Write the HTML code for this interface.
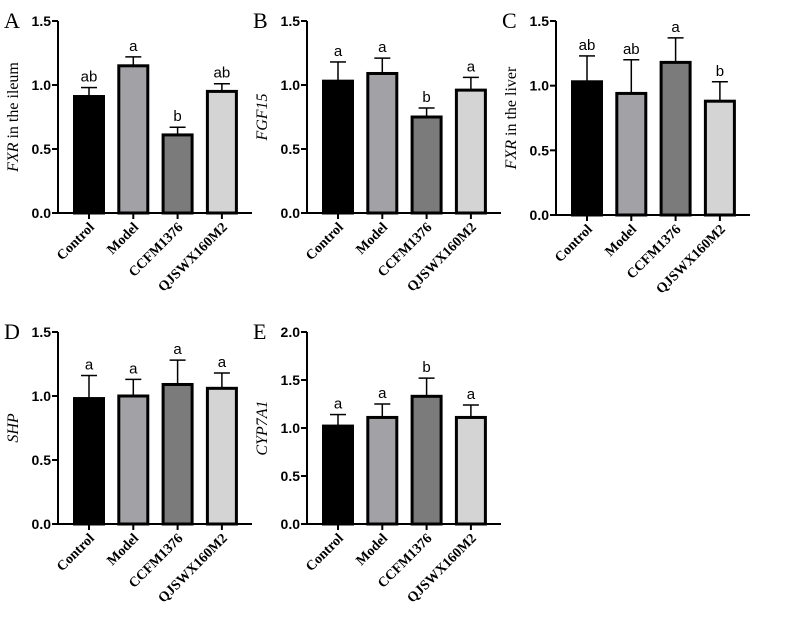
<!DOCTYPE html>
<html><head><meta charset="utf-8"><style>
body{margin:0;background:#fff}
svg{display:block}
.tk{font:bold 14px "Liberation Sans",sans-serif}
.cat{font:bold 14px "Liberation Serif",serif}
.lt{font:15px "Liberation Sans",sans-serif}
.pl{font:22px "Liberation Serif",serif}
.yt{font:16px "Liberation Serif",serif}
</style></head><body>
<svg id="c" width="787" height="618"></svg>
<script>
const categories=["Control","Model","CCFM1376","QJSWX160M2"];
const colors=["#000000","#a1a1a6","#7b7b7b","#d4d4d4"];
const valsA=[0.91,1.15,0.61,0.95], errA=[0.07,0.07,0.06,0.06], letA=["ab","a","b","ab"];
const valsB=[1.03,1.09,0.75,0.96], errB=[0.15,0.12,0.07,0.10], letB=["a","a","b","a"];
const valsC=[1.03,0.94,1.18,0.88], errC=[0.20,0.26,0.19,0.15], letC=["ab","ab","a","b"];
const valsD=[0.98,1.00,1.09,1.06], errD=[0.18,0.13,0.19,0.12], letD=["a","a","a","a"];
const valsE=[1.02,1.11,1.33,1.11], errE=[0.12,0.14,0.19,0.13], letE=["a","a","b","a"];
const ticks15=[0,0.5,1.0,1.5], ticks20=[0,0.5,1.0,1.5,2.0];
const NS="http://www.w3.org/2000/svg";
const svg=document.getElementById('c');
function mk(tag,at,parent,txt){const e=document.createElementNS(NS,tag);for(const k in at)e.setAttribute(k,at[k]);if(txt!=null)e.textContent=txt;(parent||svg).appendChild(e);return e;}
function panel(id,ax,top,bot,maxV,ticks,vals,errs,lets,titleItal,titleRest){
  const g=mk('g',{});
  
  
  const y=v=>bot-(v/maxV)*(bot-top);
  const x=i=>ax+31+i*44.3;
  const pl=mk('text',{x:ax-54,y:top+7,class:'pl'},g,id);
  
  
  mk('line',{x1:ax,y1:top,x2:ax,y2:bot+1,stroke:'#000','stroke-width':2},g);
  mk('line',{x1:ax-1,y1:bot,x2:ax+194,y2:bot,stroke:'#000','stroke-width':2},g);
  ticks.forEach(t=>{
    mk('line',{x1:ax-6,y1:y(t),x2:ax,y2:y(t),stroke:'#000','stroke-width':2},g);
    const tl=mk('text',{x:ax-7,y:y(t)+5,class:'tk','text-anchor':'end'},g,t.toFixed(1));
    
    
  });
  const yt=mk('text',{transform:`translate(${ax-40},${(top+bot)/2}) rotate(-90)`,class:'yt','text-anchor':'middle'},g);
  
  
  mk('tspan',{'font-style':'italic'},yt,titleItal);
  if(titleRest)mk('tspan',{},yt,titleRest);
  vals.forEach((v,i)=>{
    const cx=x(i),w=29;
    const eb=mk('line',{x1:cx,y1:y(v),x2:cx,y2:y(v+errs[i]),stroke:'#000','stroke-width':1.5},g);
    
    mk('line',{x1:cx-8,y1:y(v+errs[i]),x2:cx+8,y2:y(v+errs[i]),stroke:'#000','stroke-width':1.5},g);
    const b=mk('rect',{x:cx-w/2,y:y(v),width:w,height:bot-y(v),fill:colors[i],stroke:'#000','stroke-width':3},g);
    
    
    const lt=mk('text',{x:cx,y:y(v+errs[i])-6,class:'lt','text-anchor':'middle'},g,lets[i]);
    
    
    mk('line',{x1:cx,y1:bot,x2:cx,y2:bot+6,stroke:'#000','stroke-width':2},g);
    const cl=mk('text',{transform:`translate(${cx+6},${bot+15}) rotate(-45)`,class:'cat','text-anchor':'end'},g,categories[i]);
    
    
  });
}
panel('A',58,21,213,1.5,ticks15,valsA,errA,letA,'FXR',' in the ileum');
panel('B',307,21,213,1.5,ticks15,valsB,errB,letB,'FGF15','');
panel('C',556,21,215,1.5,ticks15,valsC,errC,letC,'FXR',' in the liver');
panel('D',58,332,524,1.5,ticks15,valsD,errD,letD,'SHP','');
panel('E',307,332,524,2.0,ticks20,valsE,errE,letE,'CYP7A1','');
</script>
</body></html>
